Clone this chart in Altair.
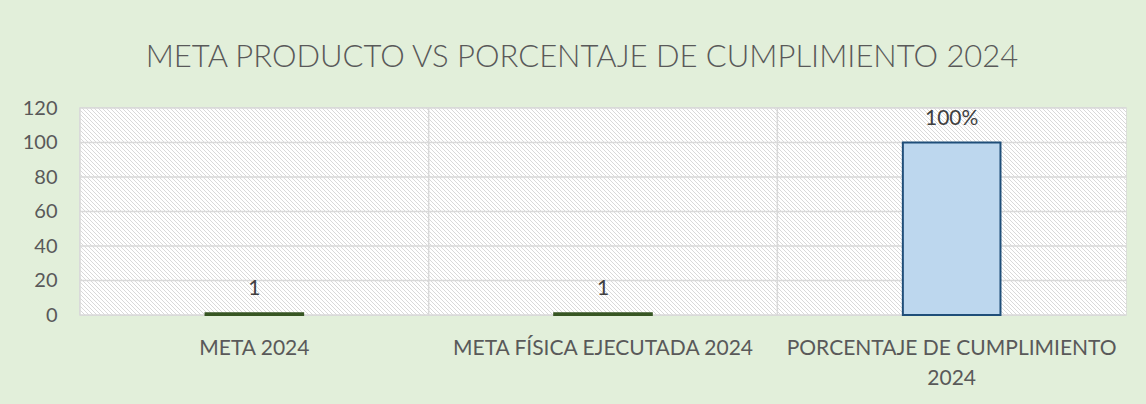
import altair as alt
import pandas as pd

# Chart data
categories = ["META 2024", "META FÍSICA EJECUTADA 2024", "PORCENTAJE DE CUMPLIMIENTO\n2024"]
values = [1, 1, 100]
value_labels = ["1", "1", "100%"]
fills = ["#548235", "#548235", "#BDD7EE"]
strokes = ["#375623", "#375623", "#1F4E79"]
y_ticks = [0, 20, 40, 60, 80, 100, 120]

W, H = 1046, 207
FONT = "Lato"

df = pd.DataFrame({
    "cat": categories,
    "value": values,
    "label": value_labels,
    "fill": fills,
    "stroke": strokes,
})
ticks_df = pd.DataFrame({"t": y_ticks})

# Diagonal hatch of the plot area, built as a striped linear gradient
# (1px grey line every 4px, lines running down to the right).
k = H / W
s = (1 + k) / (1 + k * k)
span = W + H
period_px = 4.0
stops = []
pos = 0.5
while pos < span:
    a, b = pos / span, (pos + 1.0) / span
    stops += [
        alt.GradientStop(color="#FFFFFF", offset=min(a, 1)),
        alt.GradientStop(color="#D9D9D9", offset=min(a, 1)),
        alt.GradientStop(color="#D9D9D9", offset=min(b, 1)),
        alt.GradientStop(color="#FFFFFF", offset=min(b, 1)),
    ]
    pos += period_px
hatch_fill = alt.LinearGradient(
    gradient="linear", stops=stops, x1=0, y1=1, x2=s, y2=1 - s * k
)

y_scale = alt.Scale(domain=[0, 120], nice=False)
x_scale = alt.Scale(paddingInner=0, paddingOuter=0)

x_axis = alt.Axis(
    title=None,
    labelExpr="split(datum.label, '\\n')",
    labelAngle=0,
    labelAlign="center",
    labelFont=FONT,
    labelFontSize=21,
    labelColor="#595959",
    labelPadding=22,
    labelLineHeight=30,
    labelLimit=0,
    ticks=False,
    domain=False,
    grid=False,
    labelBaseline="top",
)
y_axis = alt.Axis(
    title=None,
    values=y_ticks,
    labelOverlap=False,
    labelFont=FONT,
    labelFontSize=20,
    labelColor="#595959",
    labelPadding=23,
    ticks=False,
    domain=False,
    grid=False,
)

hatch = alt.Chart(df).mark_rect(color=hatch_fill).encode(opacity=alt.value(1))

# Horizontal gridlines, one per tick value
hgrid = alt.Chart(ticks_df).mark_rule(color="#D9D9D9", strokeWidth=1.5).encode(
    y=alt.Y("t:Q", scale=y_scale, axis=y_axis)
)

# Vertical gridlines on the category boundaries
vgrid = alt.Chart(df).mark_rule(color="#D9D9D9", strokeWidth=1.5).encode(
    x=alt.X("cat:N", sort=categories, bandPosition=0, scale=x_scale, axis=x_axis)
)

bars = alt.Chart(df).mark_bar(
    width=alt.RelativeBandSize(0.28), strokeWidth=2
).encode(
    x=alt.X("cat:N", sort=categories, scale=x_scale, axis=x_axis),
    y=alt.Y("value:Q", scale=y_scale, axis=y_axis),
    fill=alt.Fill("fill:N", scale=None),
    stroke=alt.Stroke("stroke:N", scale=None),
)

texts = alt.Chart(df).mark_text(
    font=FONT, fontSize=21, color="#404040", baseline="alphabetic", dy=-18
).encode(
    x=alt.X("cat:N", sort=categories, scale=x_scale, axis=x_axis),
    y=alt.Y("value:Q", scale=y_scale, axis=y_axis),
    text="label:N",
)

chart = (
    alt.layer(hatch, hgrid, vgrid, bars, texts)
    .properties(
        width=W,
        height=H,
        background="#E2EFDA",
        padding={"left": 80, "top": 108, "right": 20, "bottom": 89},
        autosize=alt.AutoSizeParams(type="none"),
        title=alt.TitleParams(
            "META PRODUCTO VS PORCENTAJE DE CUMPLIMIENTO 2024",
            font=FONT,
            fontSize=31,
            fontWeight=300,
            color="#595959",
            anchor="middle",
            baseline="alphabetic",
            offset=41,
            dx=-21,
            dy=41,
        ),
    )
    .configure_view(stroke="#D9D9D9", strokeWidth=1.5)
    .configure_axisY(labelOverlap=False)
)

chart.save("out.html", embed_options={"renderer": "svg", "actions": False})
